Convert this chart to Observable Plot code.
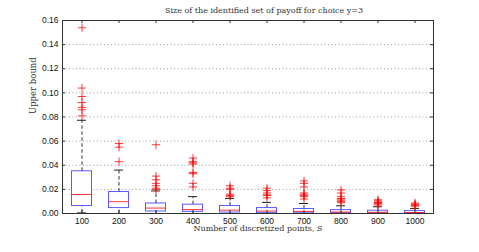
<!DOCTYPE html>
<html><head><meta charset="utf-8">
<script src="https://cdn.jsdelivr.net/npm/d3@7"></script>
<script src="https://cdn.jsdelivr.net/npm/@observablehq/plot@0.6"></script>
<style>body{margin:0;background:#fff}</style>
</head><body><div id="chart"></div><script>
const categories = [100, 200, 300, 400, 500, 600, 700, 800, 900, 1000];
const q1 = [0.0062, 0.0045, 0.0017, 0.0014, 0.0008, 0.0003, 0.0002, 0.0002, 0.0001, 0.0001];
const median = [0.0158, 0.0098, 0.0045, 0.0032, 0.0028, 0.0020, 0.0017, 0.0012, 0.0010, 0.0008];
const q3 = [0.0350, 0.0178, 0.0083, 0.0073, 0.0062, 0.0045, 0.0037, 0.0028, 0.0023, 0.0020];
const whiskerLow = [0.0005, 0, 0, 0, 0, 0, 0, 0, 0, 0];
const whiskerHigh = [0.0773, 0.0360, 0.0187, 0.0140, 0.0125, 0.0092, 0.0083, 0.0064, 0.0056, 0.0042];
const outliers = [
  [0.154, 0.104, 0.097, 0.092, 0.088, 0.086, 0.081],
  [0.058, 0.055, 0.043],
  [0.057, 0.031, 0.028, 0.025, 0.023, 0.021, 0.020],
  [0.046, 0.043, 0.042, 0.041, 0.034, 0.033, 0.025, 0.022],
  [0.023, 0.021, 0.020, 0.016, 0.015, 0.014],
  [0.021, 0.019, 0.017, 0.0155, 0.015, 0.013],
  [0.027, 0.025, 0.022, 0.017, 0.016, 0.015, 0.014, 0.012],
  [0.0195, 0.017, 0.014, 0.0125, 0.012, 0.011, 0.010, 0.009],
  [0.0114, 0.0105, 0.0095, 0.009, 0.0085, 0.008, 0.007],
  [0.0087, 0.0078, 0.0072, 0.0068, 0.006]
];
const yTicks = [0, 0.02, 0.04, 0.06, 0.08, 0.1, 0.12, 0.14, 0.16];
const title = "Size of the identified set of payoff for choice y=3";
const xLabel = "Number of discretized points, S";
const yLabel = "Upper bound";

const rows = categories.map((c, i) => ({S: c, q1: q1[i], med: median[i], q3: q3[i], lo: whiskerLow[i], hi: whiskerHigh[i]}));
const outl = outliers.flatMap((arr, i) => arr.map(v => ({S: categories[i], v})));

const serif = "'DejaVu Serif', serif";
const W = 479, H = 252, mL = 62, mR = 46, mT = 20, mB = 39;
const fw = W - mL - mR, fh = H - mT - mB;

const chart = Plot.plot({
  width: W, height: H,
  marginLeft: mL, marginRight: mR, marginTop: mT, marginBottom: mB,
  style: {fontFamily: "'Liberation Sans', Arial, sans-serif", fontSize: "8.5px", background: "#fff", color: "#111"},
  x: {type: "band", domain: categories, padding: 0},
  y: {domain: [0, 0.16]},
  marks: [
    Plot.ruleY(yTicks.slice(1, -1), {stroke: "#999", strokeDasharray: "1,2.5"}),
    Plot.ruleX(rows, {x: "S", y1: "q3", y2: "hi", stroke: "#333", strokeDasharray: "3.5,2.5"}),
    Plot.ruleX(rows, {x: "S", y1: "lo", y2: "q1", stroke: "#333", strokeDasharray: "3.5,2.5"}),
    Plot.tickY(rows, {x: "S", y: "hi", insetLeft: 14, insetRight: 14, stroke: "#222"}),
    Plot.tickY(rows, {x: "S", y: "lo", insetLeft: 14, insetRight: 14, stroke: "#222"}),
    Plot.barY(rows, {x: "S", y1: "q1", y2: "q3", fill: "white", stroke: "#0000ff", strokeOpacity: 0.65, insetLeft: 8.5, insetRight: 8.5}),
    Plot.tickY(rows, {x: "S", y: "med", stroke: "#ff0000", strokeOpacity: 0.8, insetLeft: 8.5, insetRight: 8.5}),
    Plot.dot(outl, {x: "S", y: "v", symbol: "plus", r: 2.8, stroke: "#ff0000", strokeWidth: 0.9, strokeOpacity: 0.85}),
    Plot.frame({stroke: "#333"}),
    Plot.ruleY(yTicks, {insetRight: fw - 3, stroke: "#333"}),
    Plot.ruleY(yTicks, {insetLeft: fw - 3, stroke: "#333"}),
    Plot.ruleX(categories, {x: d => d, insetTop: fh - 3, stroke: "#333"}),
    Plot.ruleX(categories, {x: d => d, insetBottom: fh - 3, stroke: "#333"}),
    Plot.axisY(yTicks, {anchor: "left", tickSize: 0, tickPadding: 4, label: null}),
    Plot.axisX({anchor: "bottom", tickSize: 0, tickPadding: 4, label: null, tickFormat: d => String(d)}),
    Plot.text([title], {text: d => d, frameAnchor: "top", lineAnchor: "middle", dy: -10.5, dx: 16, fontFamily: serif, fontSize: 8, fill: "#333"}),
    Plot.text([xLabel], {text: d => d, frameAnchor: "bottom", lineAnchor: "middle", dy: 15, dx: 10, fontFamily: serif, fontSize: 8, fill: "#333", className: "xlab"}),
    Plot.text([yLabel], {text: d => d, frameAnchor: "left", lineAnchor: "middle", rotate: -90, dx: -29, dy: -3, fontFamily: serif, fontSize: 8.5, fill: "#333"})
  ]
});
// italic S in x label
const xt = chart.querySelector(".xlab text");
if (xt) {
  const base = xLabel.slice(0, -1);
  xt.textContent = "";
  const t1 = document.createElementNS("http://www.w3.org/2000/svg", "tspan");
  t1.textContent = base;
  const t2 = document.createElementNS("http://www.w3.org/2000/svg", "tspan");
  t2.textContent = xLabel.slice(-1);
  t2.setAttribute("font-style", "italic");
  xt.appendChild(t1); xt.appendChild(t2);
}
document.getElementById("chart").appendChild(chart);
</script></body></html>
